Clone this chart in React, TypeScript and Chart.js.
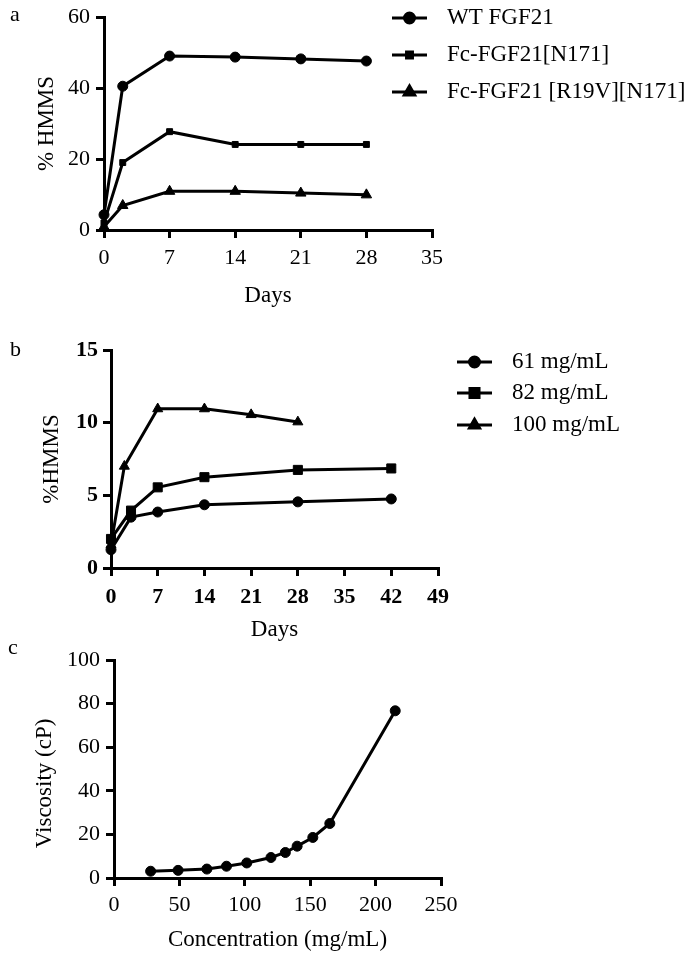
import React, { useEffect, useRef } from "react";
import { Chart, registerables } from "chart.js";
import { drawPoint } from "chart.js/helpers";

Chart.register(...registerables);

const FONT = "'Liberation Serif', 'Times New Roman', serif";
const W = 685;
const H = 954;

// ---------- Panel a ----------
const daysA = [0, 2, 7, 14, 21, 28];
const wtFGF21 = [4.3, 40.5, 49.0, 48.7, 48.2, 47.6];
const fcN171 = [2.0, 19.0, 27.7, 24.1, 24.1, 24.1];
const fcR19VN171 = [0.9, 6.9, 10.9, 10.9, 10.4, 9.9];
const seriesNamesA = ["WT FGF21", "Fc-FGF21[N171]", "Fc-FGF21 [R19V][N171]"];
const xTicksA = { min: 0, max: 35, step: 7 };
const yTicksA = { min: 0, max: 60, step: 20 };

// ---------- Panel b ----------
const days61 = [0, 3, 7, 14, 28, 42];
const hmms61 = [1.26, 3.5, 3.85, 4.35, 4.55, 4.75];
const days82 = [0, 3, 7, 14, 28, 42];
const hmms82 = [2.0, 3.95, 5.55, 6.25, 6.75, 6.85];
const days100 = [0, 2, 7, 14, 21, 28];
const hmms100 = [1.6, 7.0, 10.95, 10.95, 10.55, 10.05];
const seriesNamesB = ["61 mg/mL", "82 mg/mL", "100 mg/mL"];
const xTicksB = { min: 0, max: 49, step: 7 };
const yTicksB = { min: 0, max: 15, step: 5 };

// ---------- Panel c ----------
const concentration = [28, 49, 71, 86, 101.5, 120, 131, 140, 152, 165, 215];
const viscosity = [3.1, 3.5, 4.1, 5.4, 6.9, 9.4, 11.7, 14.6, 18.6, 25.0, 76.7];
const xTicksC = { min: 0, max: 250, step: 50 };
const yTicksC = { min: 0, max: 100, step: 20 };

const pts = (xs: number[], ys: number[]) => xs.map((x, i) => ({ x, y: ys[i] }));

const legendPlugin = {
  id: "lineLegend",
  afterDraw(chart: any, _args: any, opts: any) {
    const ctx = chart.ctx;
    ctx.save();
    if (opts.letter) {
      ctx.fillStyle = "#000";
      ctx.font = `22px ${FONT}`;
      ctx.textBaseline = "middle";
      ctx.textAlign = "left";
      ctx.fillText(opts.letter, opts.letterX, opts.letterY);
    }
    if (opts.ys) {
      chart.data.datasets.forEach((ds: any, i: number) => {
        const y = opts.ys[i];
        ctx.strokeStyle = "#000";
        ctx.lineWidth = 3;
        ctx.beginPath();
        ctx.moveTo(opts.x1, y);
        ctx.lineTo(opts.x2, y);
        ctx.stroke();
        ctx.fillStyle = "#000";
        drawPoint(
          ctx,
          {
            pointStyle: ds.pointStyle,
            radius: ds.pointRadius,
            rotation: 0,
            borderWidth: 1,
          } as any,
          (opts.x1 + opts.x2) / 2,
          y
        );
        ctx.fillStyle = "#000";
        ctx.font = `23px ${FONT}`;
        ctx.textBaseline = "middle";
        ctx.textAlign = "left";
        ctx.fillText(ds.label, opts.textX, y);
      });
    }
    ctx.restore();
  },
};

type Area = { l: number; r: number; t: number; b: number };

function makeScales(
  area: Area,
  xTitleC: number,
  yTitleC: number,
  xr: { min: number; max: number; step: number },
  yr: { min: number; max: number; step: number },
  xTitle: string,
  yTitle: string,
  xPad: number,
  yPad: number,
  bold: boolean
) {
  const xH = xTitleC + 13.8 - area.b;
  const tickFont = { family: FONT, size: 22, lineHeight: 1, weight: bold ? "bold" : "normal" };
  const titleFont = { family: FONT, size: 23, lineHeight: 1.2 };
  const grid = {
    drawOnChartArea: false,
    drawTicks: true,
    tickLength: 8,
    color: "#000",
    lineWidth: 3,
  };
  const border = { display: true, color: "#000", width: 3 };
  return {
    layout: {
      padding: { left: 0, top: area.t, right: W - area.r, bottom: H - area.b - xH },
    },
    scales: {
      x: {
        type: "linear",
        min: xr.min,
        max: xr.max,
        ticks: {
          stepSize: xr.step,
          color: "#000",
          font: tickFont,
          padding: xPad,
          autoSkip: false,
          maxRotation: 0,
        },
        grid,
        border,
        title: {
          display: true,
          text: xTitle,
          color: "#000",
          font: titleFont,
          padding: { top: 0, bottom: 0 },
        },
        afterFit: (s: any) => {
          s.height = xH;
        },
      },
      y: {
        type: "linear",
        min: yr.min,
        max: yr.max,
        ticks: {
          stepSize: yr.step,
          color: "#000",
          font: tickFont,
          padding: yPad,
          autoSkip: false,
        },
        grid,
        border,
        title: {
          display: true,
          text: yTitle,
          color: "#000",
          font: titleFont,
          padding: { top: yTitleC - 13.8, bottom: 0 },
        },
        afterFit: (s: any) => {
          s.width = area.l;
        },
      },
    },
  };
}

function ds(label: string, data: any[], style: string, radius: number) {
  return {
    label,
    data,
    borderColor: "#000",
    backgroundColor: "#000",
    borderWidth: 3,
    pointStyle: style,
    pointRadius: radius,
    pointBackgroundColor: "#000",
    pointBorderColor: "#000",
    pointBorderWidth: 1,
    tension: 0,
    clip: false,
  };
}

function buildConfig(datasets: any[], scaleCfg: any, legendOpts: any) {
  return {
    type: "line",
    data: { datasets },
    options: {
      animation: false,
      responsive: false,
      devicePixelRatio: 1,
      layout: scaleCfg.layout,
      scales: scaleCfg.scales,
      plugins: {
        legend: { display: false },
        tooltip: { enabled: false },
        lineLegend: legendOpts,
      },
    },
    plugins: [legendPlugin],
  } as any;
}

export default function App() {
  const refA = useRef<HTMLCanvasElement>(null);
  const refB = useRef<HTMLCanvasElement>(null);
  const refC = useRef<HTMLCanvasElement>(null);

  useEffect(() => {
    const charts: Chart[] = [];

    const cfgA = buildConfig(
      [
        ds(seriesNamesA[0], pts(daysA, wtFGF21), "circle", 5),
        ds(seriesNamesA[1], pts(daysA, fcN171), "rect", 4.2),
        ds(seriesNamesA[2], pts(daysA, fcR19VN171), "triangle", 6),
      ],
      makeScales({ l: 104, r: 432, t: 12, b: 230 }, 296, 47, xTicksA, yTicksA, "Days", "% HMMS", 9, 6, false),
      { x1: 392, x2: 427, textX: 447, ys: [18, 55, 92], letter: "a", letterX: 10, letterY: 15 }
    );
    const cfgB = buildConfig(
      [
        ds(seriesNamesB[0], pts(days61, hmms61), "circle", 5),
        ds(seriesNamesB[1], pts(days82, hmms82), "rect", 6.4),
        ds(seriesNamesB[2], pts(days100, hmms100), "triangle", 5.8),
      ],
      makeScales({ l: 111, r: 438, t: 350, b: 568 }, 630, 52, xTicksB, yTicksB, "Days", "%HMMS", 10, 5, true),
      { x1: 457, x2: 492, textX: 512, ys: [362, 393, 425], letter: "b", letterX: 10, letterY: 350 }
    );
    const cfgC = buildConfig(
      [ds("Viscosity", pts(concentration, viscosity), "circle", 5)],
      makeScales(
        { l: 114, r: 441, t: 660, b: 878 },
        940,
        45,
        xTicksC,
        yTicksC,
        "Concentration (mg/mL)",
        "Viscosity (cP)     ",
        8,
        6,
        false
      ),
      { letter: "c", letterX: 8, letterY: 648 }
    );

    if (refA.current) charts.push(new Chart(refA.current, cfgA));
    if (refB.current) charts.push(new Chart(refB.current, cfgB));
    if (refC.current) charts.push(new Chart(refC.current, cfgC));
    return () => charts.forEach((c) => c.destroy());
  }, []);

  const canvasStyle: React.CSSProperties = { position: "absolute", left: 0, top: 0 };
  return (
    <div style={{ position: "absolute", left: 0, top: 0, width: W, height: H, background: "#fff" }}>
      <canvas ref={refA} width={W} height={H} style={canvasStyle} />
      <canvas ref={refB} width={W} height={H} style={canvasStyle} />
      <canvas ref={refC} width={W} height={H} style={canvasStyle} />
    </div>
  );
}
